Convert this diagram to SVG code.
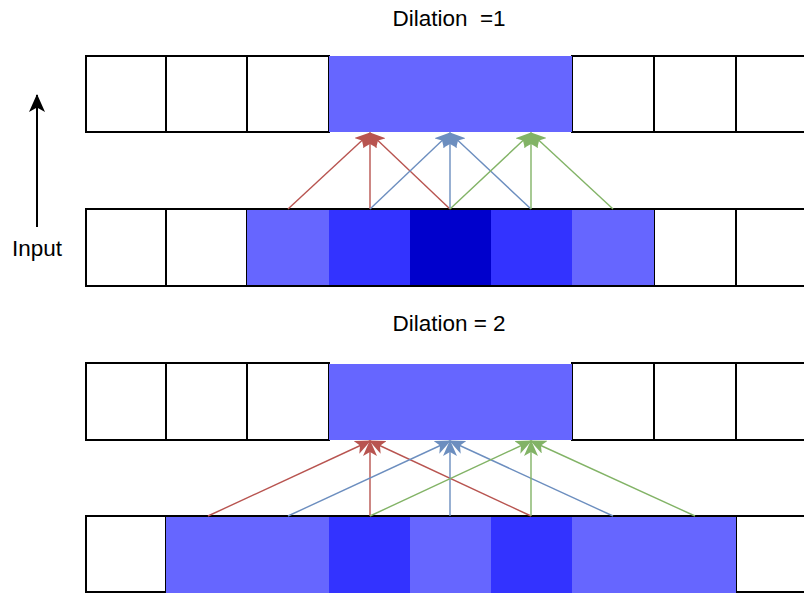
<svg xmlns="http://www.w3.org/2000/svg" width="804" height="593" viewBox="0 0 804 593">
<style>
.cell{fill:#ffffff;stroke:#000000;stroke-width:2}
.c1{fill:#6666FF;stroke:none}
.c2{fill:#3333FF;stroke:none}
.c3{fill:#0000CC;stroke:none}
.lbl{font-family:"Liberation Sans",Arial,sans-serif;font-size:22.5px;fill:#000000;text-anchor:middle;white-space:pre}
.r{stroke:#b85450;stroke-width:1.4;fill:none;marker-end:url(#ar)}
.b{stroke:#6c8ebf;stroke-width:1.4;fill:none;marker-end:url(#ab)}
.g{stroke:#82b366;stroke-width:1.4;fill:none;marker-end:url(#ag)}
</style>
<defs>
<marker id="ar" viewBox="0 0 16 14" refX="15" refY="7" markerWidth="16" markerHeight="14" markerUnits="userSpaceOnUse" orient="auto"><path d="M16,7 L0,0 L4,7 L0,14 Z" fill="#b85450"/></marker>
<marker id="ab" viewBox="0 0 16 14" refX="15" refY="7" markerWidth="16" markerHeight="14" markerUnits="userSpaceOnUse" orient="auto"><path d="M16,7 L0,0 L4,7 L0,14 Z" fill="#6c8ebf"/></marker>
<marker id="ag" viewBox="0 0 16 14" refX="15" refY="7" markerWidth="16" markerHeight="14" markerUnits="userSpaceOnUse" orient="auto"><path d="M16,7 L0,0 L4,7 L0,14 Z" fill="#82b366"/></marker>
<marker id="ak" viewBox="0 0 18 16" refX="17" refY="8" markerWidth="18" markerHeight="16" markerUnits="userSpaceOnUse" orient="auto"><path d="M18,8 L0,0 L4.5,8 L0,16 Z" fill="#000000"/></marker>
</defs>
<rect width="804" height="593" fill="#ffffff"/>

<text class="lbl" x="449" y="26" xml:space="preserve">Dilation  =1</text>
<text class="lbl" x="449" y="331">Dilation = 2</text>

<g id="input">
<line x1="37" y1="227" x2="37" y2="95" stroke="#000" stroke-width="2" marker-end="url(#ak)"/>
<text class="lbl" x="37" y="256">Input</text>
</g>

<g id="row1">
<rect class="cell" x="86" y="56" width="80" height="76"/>
<rect class="cell" x="166" y="56" width="81" height="76"/>
<rect class="cell" x="247" y="56" width="82" height="76"/>
<rect class="cell" x="572" y="56" width="82" height="76"/>
<rect class="cell" x="654" y="56" width="82" height="76"/>
<rect class="cell" x="736" y="56" width="82" height="76"/>
<rect class="c1" x="329" y="56" width="243" height="76"/>
</g>

<g id="row2">
<rect class="cell" x="86" y="209" width="80" height="77"/>
<rect class="cell" x="166" y="209" width="81" height="77"/>
<rect class="cell" x="654" y="209" width="82" height="77"/>
<rect class="cell" x="736" y="209" width="82" height="77"/>
<rect class="c1" x="247" y="210" width="82" height="75"/>
<rect class="c2" x="329" y="210" width="81" height="75"/>
<rect class="c3" x="410" y="210" width="81" height="75"/>
<rect class="c2" x="491" y="210" width="81" height="75"/>
<rect class="c1" x="572" y="210" width="82" height="75"/>
<line x1="247" y1="209" x2="654" y2="209" stroke="#000" stroke-width="2"/>
<line x1="247" y1="286" x2="654" y2="286" stroke="#000" stroke-width="2"/>
</g>

<g id="row3">
<rect class="cell" x="86" y="363" width="80" height="77"/>
<rect class="cell" x="166" y="363" width="81" height="77"/>
<rect class="cell" x="247" y="363" width="82" height="77"/>
<rect class="cell" x="572" y="363" width="82" height="77"/>
<rect class="cell" x="654" y="363" width="82" height="77"/>
<rect class="cell" x="736" y="363" width="82" height="77"/>
<rect class="c1" x="329" y="364" width="243" height="76"/>
</g>

<g id="row4">
<rect class="cell" x="86" y="516" width="80" height="76"/>
<rect class="cell" x="736" y="516" width="82" height="76"/>
<rect class="c1" x="166" y="517" width="163" height="76"/>
<rect class="c2" x="329" y="517" width="81" height="76"/>
<rect class="c1" x="410" y="517" width="81" height="76"/>
<rect class="c2" x="491" y="517" width="81" height="76"/>
<rect class="c1" x="572" y="517" width="164" height="76"/>
<line x1="166" y1="516" x2="736" y2="516" stroke="#000" stroke-width="2"/>
</g>

<g id="connectors">
<line class="r" x1="288" y1="209" x2="370" y2="133"/>
<line class="r" x1="370" y1="209" x2="370" y2="133"/>
<line class="r" x1="450" y1="209" x2="370" y2="133"/>
<line class="b" x1="370" y1="209" x2="450" y2="133"/>
<line class="b" x1="450" y1="209" x2="450" y2="133"/>
<line class="b" x1="531" y1="209" x2="450" y2="133"/>
<line class="g" x1="450" y1="209" x2="531" y2="133"/>
<line class="g" x1="531" y1="209" x2="531" y2="133"/>
<line class="g" x1="613" y1="209" x2="531" y2="133"/>

<line class="r" x1="208" y1="516" x2="370" y2="441"/>
<line class="r" x1="370" y1="516" x2="370" y2="441"/>
<line class="r" x1="531" y1="516" x2="370" y2="441"/>
<line class="b" x1="288" y1="516" x2="450" y2="441"/>
<line class="b" x1="450" y1="516" x2="450" y2="441"/>
<line class="b" x1="613" y1="516" x2="450" y2="441"/>
<line class="g" x1="370" y1="516" x2="531" y2="441"/>
<line class="g" x1="531" y1="516" x2="531" y2="441"/>
<line class="g" x1="695" y1="516" x2="531" y2="441"/>
</g>
</svg>
